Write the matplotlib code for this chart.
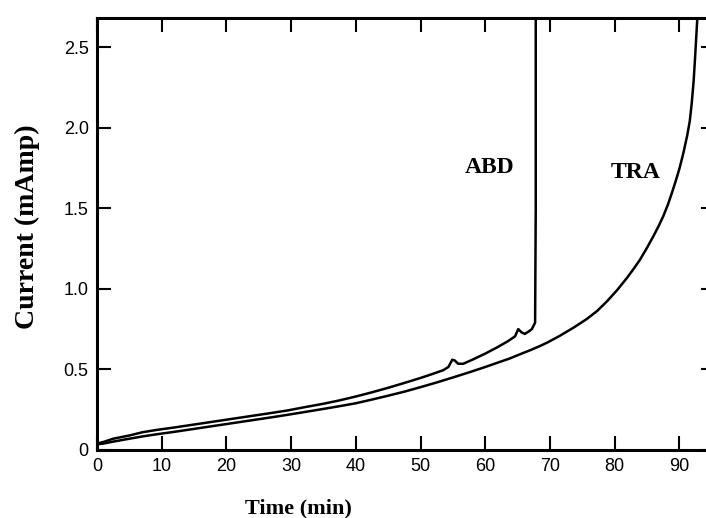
import matplotlib
matplotlib.use("Agg")
import matplotlib.pyplot as plt

# curve ABD (upper, breaks down at ~68 min)
abd_t = [0, 1, 2.5, 5, 7, 9.3, 12, 14.5, 17, 19.5, 22, 24.5, 27, 29.4, 32, 35, 37.5, 40, 42.5, 45,
         47.5, 50, 51.5, 53.5, 54.3, 54.9, 55.3, 55.8, 56.6, 58, 60, 61.8, 63.5, 64.6,
         65.1, 65.6, 66.1, 66.7, 67.2, 67.7, 67.8, 67.8]
abd_i = [0.04, 0.05, 0.07, 0.09, 0.11, 0.125, 0.14, 0.155, 0.17, 0.185, 0.2, 0.215, 0.23, 0.245,
         0.265, 0.287, 0.308, 0.332, 0.358, 0.386, 0.416, 0.447, 0.467, 0.495, 0.515, 0.56, 0.555,
         0.535, 0.535, 0.56, 0.598, 0.636, 0.675, 0.705, 0.75, 0.73, 0.72, 0.735, 0.75, 0.79,
         1.5, 2.70]

# curve TRA (lower)
tra_t = [0, 1, 2.5, 5, 7, 9.3, 12, 14.5, 17, 19.5, 22, 24.5, 27, 29.4, 32, 35, 37.5, 40, 42.5, 45,
         47.5, 50, 52.5, 55, 57.6, 60, 62, 63.8, 65, 67, 68.5, 69.7, 71.5, 73.6, 75.7, 77.3,
         78.8, 80.4, 81.9, 83.0, 83.9, 85.0, 86.0, 86.8, 87.5, 88.2, 88.8, 89.4, 90.0, 90.6,
         91.2, 91.6, 91.9, 92.2, 92.4, 92.6, 92.8]
tra_i = [0.035, 0.04, 0.052, 0.07, 0.084, 0.098, 0.113, 0.128, 0.143, 0.158, 0.173, 0.188, 0.203,
         0.218, 0.235, 0.255, 0.272, 0.29, 0.313, 0.337, 0.362, 0.39, 0.419, 0.45, 0.483, 0.515,
         0.543, 0.568, 0.588, 0.62, 0.646, 0.669, 0.708, 0.758, 0.813, 0.863, 0.922, 0.993,
         1.068, 1.128, 1.18, 1.255, 1.328, 1.39, 1.45, 1.52, 1.59, 1.665, 1.745, 1.84, 1.95,
         2.04, 2.15, 2.29, 2.42, 2.56, 2.70]

xticks = [0, 10, 20, 30, 40, 50, 60, 70, 80, 90]
yticks = [0, 0.5, 1.0, 1.5, 2.0, 2.5]
ytick_labels = ['0', '0.5', '1.0', '1.5', '2.0', '2.5']

fig = plt.figure(figsize=(7.06, 5.18), dpi=100)
W, H = 706, 518
ax = fig.add_axes([97 / W, 68 / H, (715 - 97) / W, (450 - 18) / H])

ax.plot(abd_t, abd_i, color='black', lw=1.8, solid_joinstyle='round')
ax.plot(tra_t, tra_i, color='black', lw=1.8, solid_joinstyle='round')

ax.set_xlim(0, 95.5)
ax.set_ylim(0, 2.68)

ax.set_xticks(xticks)
ax.set_xticklabels([str(t) for t in xticks])
ax.set_yticks(yticks)
ax.set_yticklabels(ytick_labels)

ax.tick_params(direction='in', length=10, width=1.5, top=True, right=True,
               labelsize=13, pad=6)
for lab in ax.get_xticklabels() + ax.get_yticklabels():
    lab.set_fontfamily('Liberation Sans')

for sp in ax.spines.values():
    sp.set_linewidth(2.2)

serif = dict(family='Liberation Serif', weight='bold')
ax.set_ylabel('Current (mAmp)', fontsize=20, **serif)
ax.yaxis.set_label_coords((27 - 97) / 618, (450 - 227) / 432)
ax.yaxis.label.set_va('center')
ax.set_xlabel('Time (min)', fontsize=16, **serif)
ax.xaxis.set_label_coords((298 - 97) / 618, (450 - 508) / 432)
ax.xaxis.label.set_va('center')

ax.text(60.7, 1.75, 'ABD', ha='center', va='center', fontsize=17, **serif)
ax.text(83.2, 1.72, 'TRA', ha='center', va='center', fontsize=17, **serif)

fig.savefig('out.png', dpi=100)
